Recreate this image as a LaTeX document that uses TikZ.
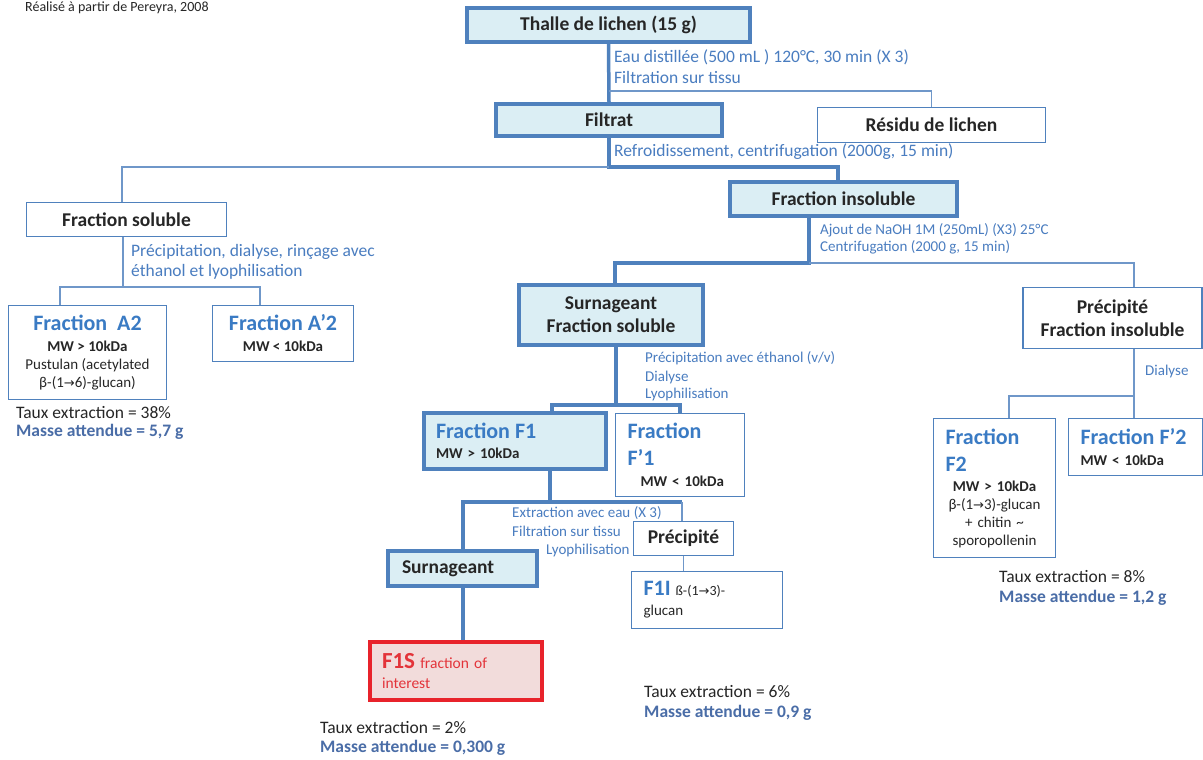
\documentclass[tikz,border=0pt]{standalone}
\usepackage{fontspec}
\setmainfont{Carlito}
\newfontfamily\symfont{DejaVu Sans}
\usetikzlibrary{calc}
\definecolor{boxblue}{HTML}{4F81BD}
\definecolor{thinblue}{HTML}{6F97C9}
\definecolor{boxfill}{HTML}{DBEEF4}
\definecolor{fraccol}{HTML}{3A7BC4}
\definecolor{proccol}{HTML}{4A7DC0}
\definecolor{masscol}{HTML}{4A6DA7}
\definecolor{darktext}{HTML}{262626}
\definecolor{redc}{HTML}{E8232B}
\definecolor{redtext}{HTML}{E3343A}
\definecolor{redfill}{HTML}{F2DCDB}
\pgfdeclarelayer{background}
\pgfdeclarelayer{paper}
\pgfsetlayers{paper,background,main}
\newcommand\ttlfont{\bfseries\fontsize{19.5}{23}\selectfont}
\newcommand\bigfrac{\color{fraccol}\bfseries\fontsize{22}{26}\selectfont}
\newcommand\mwfont{\color{darktext}\bfseries\fontsize{15}{18}\selectfont}
\newcommand\smfont{\fontsize{15}{18}\selectfont}
\newcommand\arr{{\symfont\fontsize{13}{15}\selectfont →}}
\tikzset{
  tbox/.style={draw=boxblue, line width=3.5pt, fill=boxfill, inner sep=0pt, text=darktext},
  nbox/.style={draw=boxblue, line width=1.1pt, fill=white, inner sep=0pt, text=darktext},
  tline/.style={draw=boxblue, line width=3.5pt},
  nline/.style={draw=thinblue, line width=1.1pt},
  proc/.style={text=proccol, anchor=west, inner sep=0pt, font=\fontsize{17.5}{20}\selectfont},
  procs/.style={text=proccol, anchor=west, inner sep=0pt, font=\fontsize{15}{18}\selectfont},
  stat/.style={anchor=west, inner sep=0pt, text=darktext, font=\fontsize{17.5}{20}\selectfont},
  mass/.style={anchor=west, inner sep=0pt, text=masscol, font=\bfseries\fontsize{17.5}{20}\selectfont},
}
\begin{document}
\begin{tikzpicture}[x=1pt,y=-1pt]
\begin{pgfonlayer}{paper}
\fill[white] (0,0) rectangle (1203,760);
\end{pgfonlayer}
\useasboundingbox (0,0) rectangle (1203,760);

\node[anchor=west, inner sep=0pt, text=darktext, font=\fontsize{14}{16}\selectfont] (src) at (25,8) {Réalisé à partir de Pereyra, 2008};

% boxes
\node[tbox, minimum width=283, minimum height=34, font=\ttlfont] (thalle) at (608.5,25) {Thalle de lichen (15 g)};
\node[tbox, minimum width=226, minimum height=32, font=\ttlfont] (filtrat) at (609,120) {Filtrat};
\node[nbox, minimum width=228, minimum height=35, font=\ttlfont] (residu) at (931.5,125) {Résidu de lichen};
\node[tbox, minimum width=227, minimum height=34, font=\ttlfont] (finsol) at (843.5,199) {Fraction insoluble};
\node[nbox, minimum width=200, minimum height=34, font=\ttlfont] (fsol) at (126.5,219.5) {Fraction soluble};

\node[nbox, minimum width=158, minimum height=94, align=center, font=\smfont] (A2) at (87.5,352.5)
  {{\bigfrac Fraction\ \ A2}\\[3pt]{\mwfont MW > 10kDa}\\Pustulan (acetylated\\β-(1\arr6)-glucan)};
\node[nbox, minimum width=141, minimum height=56, align=center, font=\smfont] (A2p) at (283,333.5)
  {{\bigfrac Fraction A’2}\\[3pt]{\mwfont MW < 10kDa}};

\node[tbox, minimum width=184, minimum height=60, align=center, font=\ttlfont] (surn1) at (611,315)
  {Surnageant\\Fraction soluble};
\node[nbox, minimum width=179, minimum height=61, align=center, font=\ttlfont] (precip1) at (1112.5,318)
  {Précipité\\Fraction insoluble};

\node[nbox, minimum height=139, text width=98, inner xsep=12, align=left, font=\smfont] (F2) at (994.5,488)
  {{\bigfrac Fraction}\\[9pt]{\bigfrac F2}\\[2pt]
   \makebox[98pt]{\mwfont MW > 10kDa}\\
   \makebox[98pt]{β-(1\arr3)-glucan}\\
   \makebox[98pt]{+ chitin \textasciitilde}\\
   \makebox[98pt]{sporopollenin}};
\node[nbox, minimum height=57, text width=110, inner xsep=12, align=left, font=\smfont] (F2p) at (1135.5,447)
  {\mbox{\bigfrac Fraction F’2}\\[3pt]\mbox{\mwfont MW < 10kDa}};

\node[tbox, minimum height=56, text width=158, inner xsep=12, align=left, font=\smfont] (F1) at (515,441)
  {\mbox{\bigfrac Fraction F1}\\[2pt]\mbox{\mwfont MW > 10kDa}};
\node[nbox, minimum height=83, text width=105, inner xsep=12, align=left, font=\smfont] (F1p) at (680,455)
  {{\bigfrac Fraction}\\[9pt]{\bigfrac F’1}\\[3pt]\hspace*{13pt}\mbox{\mwfont MW < 10kDa}};

\node[nbox, minimum width=100, minimum height=34, font=\ttlfont] (precip2) at (683.5,538.5) {Précipité};
\node[nbox, minimum height=57, text width=127, inner xsep=12, align=left, font=\smfont] (F1I) at (707,600)
  {\mbox{{\bigfrac F1I} {\fontsize{14}{16}\selectfont ß-(1\arr3)-}}\\[2pt]glucan};
\node[tbox, minimum height=35, text width=121, inner xsep=14, align=left, font=\ttlfont] (surn2) at (462.5,568.5) {Surnageant};
\node[draw=redc, line width=3.5pt, fill=redfill, inner sep=0pt, minimum height=58, text width=148, inner xsep=12,
      align=left, text=redtext, font=\fontsize{15.5}{18}\selectfont] (F1S) at (456,671)
  {\mbox{{\bfseries\fontsize{23}{26}\selectfont F1S} fraction of}\\[2pt]interest};

% process labels
\node[proc] (p1a) at (614,57) {Eau distillée (500 mL ) 120°C, 30 min (X 3)};
\node[proc] (p1b) at (614,77) {Filtration sur tissu};
\node[proc] (p2) at (614,152) {Refroidissement, centrifugation (2000g, 15 min)};
\node[proc] (p3a) at (131,252) {Précipitation, dialyse, rinçage avec};
\node[proc] (p3b) at (131,272) {éthanol et lyophilisation};
\node[procs] (p4a) at (820,230) {Ajout de NaOH 1M (250mL) (X3) 25°C};
\node[procs] (p4b) at (820,247) {Centrifugation (2000 g, 15 min)};
\node[procs] (p5a) at (645,358) {Précipitation avec éthanol (v/v)};
\node[procs] (p5b) at (645,377) {Dialyse};
\node[procs] (p5c) at (645,394) {Lyophilisation};
\node[procs] (p6) at (1145,371) {Dialyse};
\node[procs] (p7a) at (512,513) {Extraction avec eau (X 3)};
\node[procs] (p7b) at (512,531) {Filtration sur tissu};
\node[procs] (p7c) at (546,550) {Lyophilisation};

% yields
\node[stat] (sA) at (16,413) {Taux extraction = 38\%};
\node[mass] (mA) at (16,432) {Masse attendue = 5,7 g};
\node[stat] (sF2) at (999,577) {Taux extraction = 8\%};
\node[mass] (mF2) at (999,598) {Masse attendue = 1,2 g};
\node[stat] (sF1I) at (644,692) {Taux extraction = 6\%};
\node[mass] (mF1I) at (644,713) {Masse attendue = 0,9 g};
\node[stat] (sF1S) at (320,728) {Taux extraction = 2\%};
\node[mass] (mF1S) at (320,748) {Masse attendue = 0,300 g};

% junctions
\coordinate (c1) at (609,91);
\coordinate (c2) at (609,167);
\coordinate (c3) at (838,167);
\coordinate (c4) at (122,167);
\coordinate (c5) at (123,287);
\coordinate (c6) at (60,287);
\coordinate (c7) at (260,287);
\coordinate (c8) at (809,263);
\coordinate (c9) at (615,263);
\coordinate (c10) at (1134,263);
\coordinate (c11) at (616,405);
\coordinate (c12) at (552,405);
\coordinate (c13) at (680,405);
\coordinate (c14) at (1134,396);
\coordinate (c15) at (1009,396);
\coordinate (c16) at (550,502);
\coordinate (c17) at (463,502);
\coordinate (c18) at (682,502);

\begin{pgfonlayer}{background}
\draw[tline] (thalle.south) -- (filtrat.north);
\draw[nline] (c1) -| (residu.north);
\draw[tline] (filtrat.south) |- (c3) -- (c3 |- finsol.north);
\draw[nline] (c2) -- (c4) -- (c4 |- fsol.north);
\draw[nline] (c5 |- fsol.south) -- (c5);
\draw[nline] (c6 |- A2.north) -- (c6) -- (c7) -- (c7 |- A2p.north);
\draw[tline] (c8 |- finsol.south) -- (c8) -- (c9) -- (c9 |- surn1.north);
\draw[nline] (c8) -- (c10) -- (c10 |- precip1.north);
\draw[tline] (c11 |- surn1.south) -- (c11);
\draw[tline] (c12 |- F1.north) -- (c12) -- (c13) -- (c13 |- F1p.north);
\draw[nline] (c14 |- precip1.south) -- (c14);
\draw[nline] (c15 |- F2.north) -- (c15) -- (c14) -- (c14 |- F2p.north);
\draw[tline] (c16 |- F1.south) -- (c16);
\draw[tline] (c17 |- surn2.north) -- (c17) -- (c18);
\draw[nline] (c18) -- (c18 |- precip2.north);
\draw[nline] (precip2.south) -- (precip2.south |- F1I.north);
\draw[tline] (c17 |- surn2.south) -- (c17 |- F1S.north);
\end{pgfonlayer}
\end{tikzpicture}
\end{document}
